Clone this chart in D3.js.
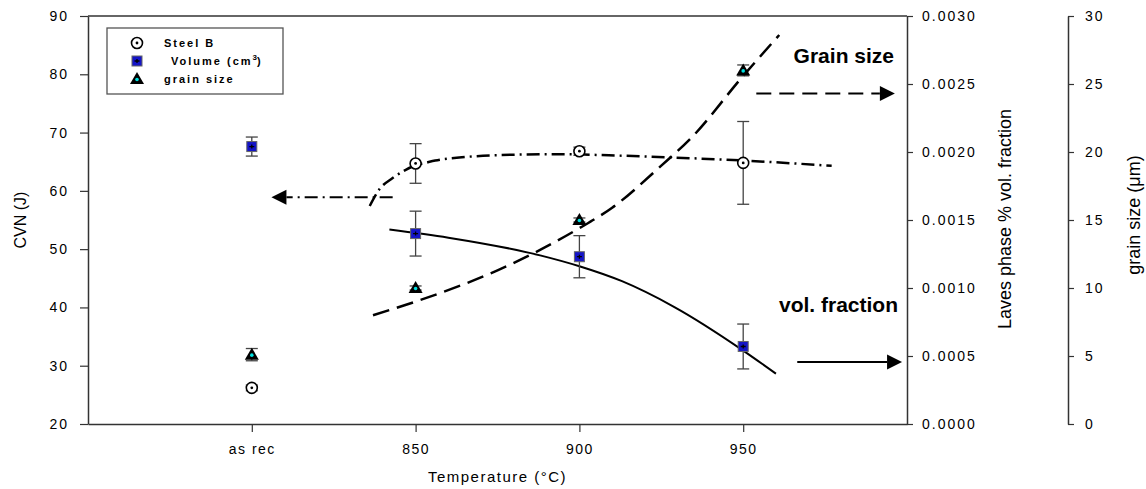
<!DOCTYPE html>
<html><head><meta charset="utf-8">
<script src="https://cdn.jsdelivr.net/npm/d3@7"></script>
<style>
body{margin:0;background:#fff}
text{font-family:Arial,'Liberation Sans',sans-serif;fill:#000}
</style>
</head><body>
<svg id="c" width="1146" height="489"></svg>
<script>
// ---------- data ----------
const categories = ["as rec", "850", "900", "950"];
const categoryTemps = [800, 850, 900, 950];
const steelB = [26.2, 64.7, 66.8, 64.8];
const steelBErr = [0.5, 3.4, 0.7, 7.1];
const volume = [0.00204, 0.00140, 0.00123, 0.00057];
const volumeErr = [0.00007, 0.000165, 0.000155, 0.000165];
const grain = [5.1, 10.0, 15.0, 26.0];
const grainErr = [0.45, 0.15, 0.15, 0.4];
const cvnTicks = [20, 30, 40, 50, 60, 70, 80, 90];
const volTicks = [0, 0.0005, 0.001, 0.0015, 0.002, 0.0025, 0.003];
const grainTicks = [0, 5, 10, 15, 20, 25, 30];
// trend lines [temperature, value]
const cvnTrend = [[836,57.4],[839,60.3],[843,62.2],[847,63.6],[850,64.4],[853,64.8],[856,65.2],[865,65.8],[880,66.2],[895,66.3],[909,66.1],[934,65.6],[950,65.2],[977,64.3]];
const volTrend = [[842,0.00143],[860,0.00137],[888,0.00124],[900,0.00116],[913,0.00105],[929,0.00086],[950,0.00054],[960,0.00037]];
const grainTrend = [[837,8.0],[850,9.0],[875,11.3],[888,12.8],[900,14.4],[910,15.9],[925,19.0],[934,21.0],[950,25.6],[961,28.6]];
// annotation arrows [fromTemp, toTemp, value]
const cvnArrow = [843, 806, 58.9];
const grainArrow = [954, 996.3, 24.3];
const volArrow = [966.5, 998.5, 0.000456];
const legendLabels = ["Steel B", "Volume (cm", "grain size"];

// ---------- scales ----------
const svg = d3.select("#c");
const m = {left: 88, right: 907, top: 16, bottom: 424};
const x = d3.scaleLinear().domain([750, 1000]).range([m.left, m.right]);
const yC = d3.scaleLinear().domain([20, 90]).range([m.bottom, m.top]);
const yV = d3.scaleLinear().domain([0, 0.003]).range([m.bottom, m.top]);
const yG = d3.scaleLinear().domain([0, 30]).range([m.bottom, m.top]);

const axisColor = "#333";
function styleAxis(g, ls) {
  g.selectAll("path.domain").attr("stroke", axisColor).attr("stroke-width", 1.5);
  g.selectAll(".tick line").attr("stroke", axisColor).attr("stroke-width", 1.2);
  g.selectAll(".tick text").style("font-size", "14px").style("letter-spacing", ls).attr("fill", "#000")
    .style("font-family", "Arial,'Liberation Sans',sans-serif");
}

// frame top line
svg.append("line").attr("x1", m.left).attr("x2", m.right).attr("y1", m.top).attr("y2", m.top)
  .attr("stroke", axisColor).attr("stroke-width", 1.5);

const gL = svg.append("g").attr("transform", `translate(${m.left},0)`)
  .call(d3.axisLeft(yC).tickValues(cvnTicks).tickSize(8).tickSizeOuter(0).tickPadding(11));
styleAxis(gL, "2px");
const gB = svg.append("g").attr("transform", `translate(0,${m.bottom})`)
  .call(d3.axisBottom(x).tickValues(categoryTemps).tickFormat((d, i) => categories[i]).tickSize(8).tickSizeOuter(0).tickPadding(12));
styleAxis(gB, "1.5px");
const gR = svg.append("g").attr("transform", `translate(${m.right},0)`)
  .call(d3.axisRight(yV).tickValues(volTicks).tickFormat(d3.format(".4f")).tickSize(6).tickSizeOuter(0).tickPadding(9));
styleAxis(gR, "2px");
const gR2 = svg.append("g").attr("transform", `translate(1068,0)`)
  .call(d3.axisRight(yG).tickValues(grainTicks).tickSize(6).tickSizeOuter(0).tickPadding(11));
styleAxis(gR2, "2px");

// axis titles
svg.append("text").attr("transform", `translate(26,${(m.top + m.bottom) / 2}) rotate(-90)`)
  .attr("text-anchor", "middle").style("font-size", "16px").text("CVN (J)");
svg.append("text").attr("x", (m.left + m.right) / 2).attr("y", 482).attr("text-anchor", "middle")
  .style("font-size", "15px").style("letter-spacing", "1.5px").text("Temperature (°C)");
svg.append("text").attr("transform", `translate(1011,219) rotate(-90)`)
  .attr("text-anchor", "middle").style("font-size", "18px").text("Laves phase % vol. fraction");
svg.append("text").attr("transform", `translate(1140,215) rotate(-90)`)
  .attr("text-anchor", "middle").style("font-size", "18px").text("grain size (μm)");

// ---------- trend lines ----------
const line = (ys) => d3.line().x(d => x(d[0])).y(d => ys(d[1])).curve(d3.curveMonotoneX);
svg.append("path").attr("d", line(yC)(cvnTrend)).attr("fill", "none").attr("stroke", "#000")
  .attr("stroke-width", 2.5).attr("stroke-dasharray", "13,5,2,5");
svg.append("path").attr("d", line(yV)(volTrend)).attr("fill", "none").attr("stroke", "#000").attr("stroke-width", 2);
svg.append("path").attr("d", line(yG)(grainTrend)).attr("fill", "none").attr("stroke", "#000")
  .attr("stroke-width", 2.5).attr("stroke-dasharray", "17,8");

// ---------- arrows ----------
function arrow(a, ys, dash, dir) {
  const x1 = x(a[0]), x2 = x(a[1]), yy = ys(a[2]);
  const hl = 15, hh = 7.5;
  const base = x2 - dir * hl;
  const ln = svg.append("line").attr("x1", x1).attr("x2", base).attr("y1", yy).attr("y2", yy)
    .attr("stroke", "#000").attr("stroke-width", 2);
  if (dash) ln.attr("stroke-dasharray", dash);
  svg.append("path").attr("d", `M${x2},${yy}L${base},${yy - hh}L${base},${yy + hh}Z`).attr("fill", "#000");
}
arrow(cvnArrow, yC, "13,5,2,5", -1);
arrow(grainArrow, yG, "15,8", 1);
arrow(volArrow, yV, null, 1);

svg.append("text").attr("x", 894).attr("y", 63).attr("text-anchor", "end")
  .style("font-size", "21px").style("font-weight", "bold").text("Grain size");
svg.append("text").attr("x", 898).attr("y", 312).attr("text-anchor", "end")
  .style("font-size", "21px").style("font-weight", "bold").text("vol. fraction");

// ---------- error bars ----------
const errColor = "#444";
function errBars(vals, errs, ys) {
  const g = svg.append("g");
  vals.forEach((v, i) => {
    const cx = x(categoryTemps[i]), t = ys(v + errs[i]), b = ys(v - errs[i]);
    g.append("line").attr("x1", cx).attr("x2", cx).attr("y1", t).attr("y2", b).attr("stroke", errColor).attr("stroke-width", 1.3);
    [t, b].forEach(yy => g.append("line").attr("x1", cx - 6).attr("x2", cx + 6).attr("y1", yy).attr("y2", yy)
      .attr("stroke", errColor).attr("stroke-width", 1.3));
  });
}
errBars(steelB, steelBErr, yC);
errBars(volume, volumeErr, yV);
errBars(grain, grainErr, yG);

// ---------- markers ----------
function circleMark(g, cx, cy) {
  g.append("circle").attr("cx", cx).attr("cy", cy).attr("r", 5.5).attr("fill", "#fff").attr("stroke", "#000").attr("stroke-width", 1.6);
  g.append("circle").attr("cx", cx).attr("cy", cy).attr("r", 1.4).attr("fill", "#000");
}
function squareMark(g, cx, cy) {
  g.append("rect").attr("x", cx - 5).attr("y", cy - 5).attr("width", 10).attr("height", 10)
    .attr("fill", "#1414c8").attr("stroke", "#666").attr("stroke-width", 1);
  g.append("path").attr("d", `M${cx - 2.5},${cy}H${cx + 2.5}M${cx},${cy - 2}V${cy + 2}`).attr("stroke", "#000").attr("stroke-width", 1.3);
}
function triMark(g, cx, cy) {
  g.append("path").attr("d", `M${cx},${cy - 7}L${cx + 7},${cy + 5}L${cx - 7},${cy + 5}Z`).attr("fill", "#000");
  g.append("circle").attr("cx", cx).attr("cy", cy + 0.5).attr("r", 1.8).attr("fill", "#00e0e0");
}
const gm = svg.append("g");
steelB.forEach((v, i) => circleMark(gm, x(categoryTemps[i]), yC(v)));
volume.forEach((v, i) => squareMark(gm, x(categoryTemps[i]), yV(v)));
grain.forEach((v, i) => triMark(gm, x(categoryTemps[i]), yG(v)));

// ---------- legend ----------
const lg = svg.append("g");
lg.append("rect").attr("x", 107).attr("y", 28).attr("width", 176).attr("height", 66)
  .attr("fill", "#fff").attr("stroke", "#555").attr("stroke-width", 1.3);
const rows = [43, 61, 79];
circleMark(lg, 137, rows[0]);
squareMark(lg, 137, rows[1]);
triMark(lg, 137, rows[2]);
const lt = (i, xx) => lg.append("text").attr("x", xx).attr("y", rows[i] + 4).style("font-size", "11px")
  .style("font-weight", "bold").style("letter-spacing", "2px");
lt(0, 164).text(legendLabels[0]);
const t1 = lt(1, 171);
t1.append("tspan").text(legendLabels[1]);
t1.append("tspan").attr("dy", -5).style("font-size", "8px").style("letter-spacing", "0px").text("3");
t1.append("tspan").attr("dy", 5).text(")");
lt(2, 164).text(legendLabels[2]);
</script>
</body></html>
